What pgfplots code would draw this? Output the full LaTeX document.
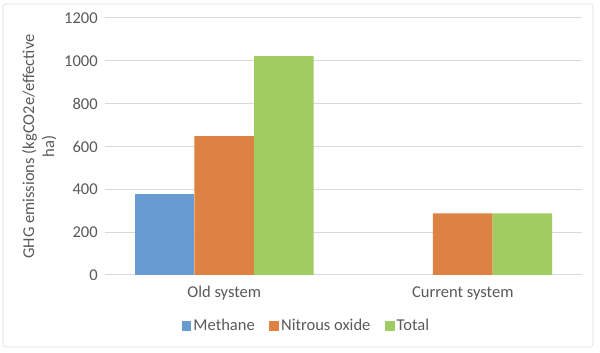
\documentclass[border=0pt]{standalone}
\usepackage{fontspec}
\setmainfont{Carlito}
\usepackage{pgfplots}
\pgfplotsset{compat=1.18}
\definecolor{cMeth}{RGB}{104,155,210}
\definecolor{cN2O}{RGB}{222,130,68}
\definecolor{cTot}{RGB}{160,205,98}
\definecolor{txt}{RGB}{89,89,89}
\definecolor{grd}{RGB}{217,217,217}
\begin{document}
\begin{tikzpicture}
\path[use as bounding box] (-78.75pt,-58.5pt) rectangle (371.25pt,206.25pt);
\draw[color=grd, rounded corners=2pt] (-76.5pt,-54pt) rectangle (366pt,203.25pt);
\begin{axis}[
  at={(0pt,0pt)}, anchor=south west,
  scale only axis,
  width=357.75pt, height=192.75pt,
  font=\fontsize{12.4pt}{15pt}\selectfont,
  ybar=0pt, bar width=44.7pt,
  xmin=-0.5, xmax=1.5,
  ymin=0, ymax=1200,
  ytick={0,200,...,1200},
  xtick={0,1},
  xticklabels={Old system, Current system},
  axis line style={draw=none},
  major tick length=0pt,
  ymajorgrids,
  major grid style={color=grd, line width=0.75pt},
  /pgf/number format/assume math mode=true,
  /pgf/number format/1000 sep={},
  tick label style={color=txt},
  yticklabel style={anchor=east, inner sep=0pt, xshift=-5.25pt},
  xticklabel style={anchor=center, inner sep=0pt, yshift=-13.5pt},
  ylabel={GHG emissions (kgCO2e/effective\\ha)},
  ylabel style={at={(axis description cs:-0.138,0.5)}, anchor=center, align=center, color=txt, rotate=0},
  legend columns=3,
  legend style={at={(0.4224,-0.198)}, anchor=center, draw=none, fill=none,
    text=txt, inner sep=0pt,
    /tikz/every even column/.append style={column sep=9.5pt},
    nodes={inner sep=1.5pt}},
  legend image code/.code={\fill[#1] (0pt,-3.6pt) rectangle (7.2pt,3.6pt);},
]
\addplot[fill=cMeth, draw=none] coordinates {(0,378)};
\addplot[fill=cN2O, draw=none] coordinates {(0,649) (1,288)};
\addplot[fill=cTot, draw=none] coordinates {(0,1022) (1,288)};
\legend{Methane, Nitrous oxide, Total}
\end{axis}
\end{tikzpicture}
\end{document}
